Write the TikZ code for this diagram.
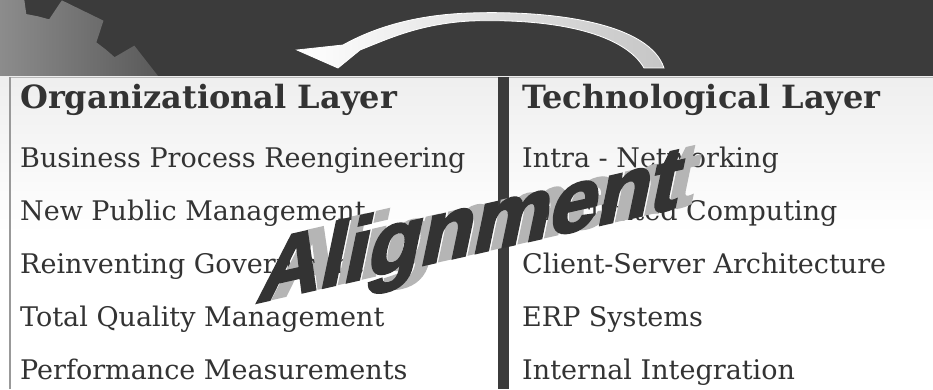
\documentclass[tikz,border=0pt]{standalone}
\usepackage{fontspec}
\setmainfont{DejaVu Serif}
\newfontfamily\alignfont{Liberation Sans}[BoldFeatures={FakeBold=3}]
\usepackage{tikz}
\definecolor{banner}{HTML}{3B3B3B}
\definecolor{ink}{HTML}{333333}
\definecolor{panelgray}{HTML}{DEDEDE}
\definecolor{shadowgray}{HTML}{B5B5B5}
\definecolor{gearlight}{HTML}{8C8C8C}
\definecolor{geardark}{HTML}{565656}
\pgfdeclareverticalshading{panelshade}{100bp}{color(0bp)=(panelgray); color(25bp)=(white); color(50bp)=(white); color(100bp)=(panelgray)}
\tikzstyle{layer} = [anchor=base west, inner sep=0pt, text=ink, font=\fontsize{32}{32}\selectfont\bfseries]
\tikzstyle{item} = [anchor=base west, inner sep=0pt, text=ink, font=\fontsize{27}{27}\selectfont]
\tikzstyle{slogan} = [anchor=base west, inner sep=0pt, font=\alignfont\fontsize{95}{95}\selectfont\bfseries, cm={0.905,0.205,0.2,0.96,(0,0)}]

\begin{document}
\begin{tikzpicture}[x=1pt, y=1pt]
    \useasboundingbox (0,0) rectangle (933,389);
    % banner with the gear
    \fill[banner] (0,312) rectangle (933,389);
    \begin{scope}
        \clip (0,312) rectangle (933,389);
        \begin{scope}[shift={(0,209)}]
            \clip (0,0) -- (-1:168) \foreach \a in {-1,25,...,155} {-- (\a+4:168) -- (\a+6:190) -- (\a+20:190) -- (\a+22:168) -- (\a+26:168)} -- cycle;
            \shade[left color=gearlight, right color=geardark] (0,103) rectangle (170,180);
        \end{scope}
    \end{scope}
    % curved arrow
    \shade[left color=white, right color=gray!45, draw=white, line width=0.8pt]
        (664,321) .. controls (650,364) and (560,379) .. (470,376)
        .. controls (410,374) and (370,359) .. (343,344)
        -- (297,339) -- (338,321) -- (360,339)
        .. controls (390,351) and (420,365) .. (470,368)
        .. controls (560,371) and (625,354) .. (644,321) -- cycle;
    % the two layers
    \shade[shading=panelshade] (0,0) rectangle (933,312);
    \draw[gray!55] (10,312) -- (933,312);
    \draw[gray!80, line width=1.5pt] (10,0) -- (10,312);
    \fill[banner] (498,0) rectangle (509,312);
    \node[layer] (orgtitle) at (20,280) {Organizational Layer};
    \node[layer] (techtitle) at (522,280) {Technological Layer};
    \foreach \txt [count=\i] in {Business Process Reengineering, New Public Management, Reinventing Government, Total Quality Management, Performance Measurements}
        \node[item] (org\i) at (20,275-53*\i) {\txt};
    \foreach \txt [count=\i] in {Intra - Networking, Distributed Computing, Client-Server Architecture, ERP Systems, Internal Integration}
        \node[item] (tech\i) at (522,275-53*\i) {\txt};
    % alignment word
    \node[slogan, text=shadowgray] (sloganshadow) at (271,90) {Alignment};
    \node[slogan, text=ink] (slogan) at (255,86) {Alignment};
\end{tikzpicture}
\end{document}
